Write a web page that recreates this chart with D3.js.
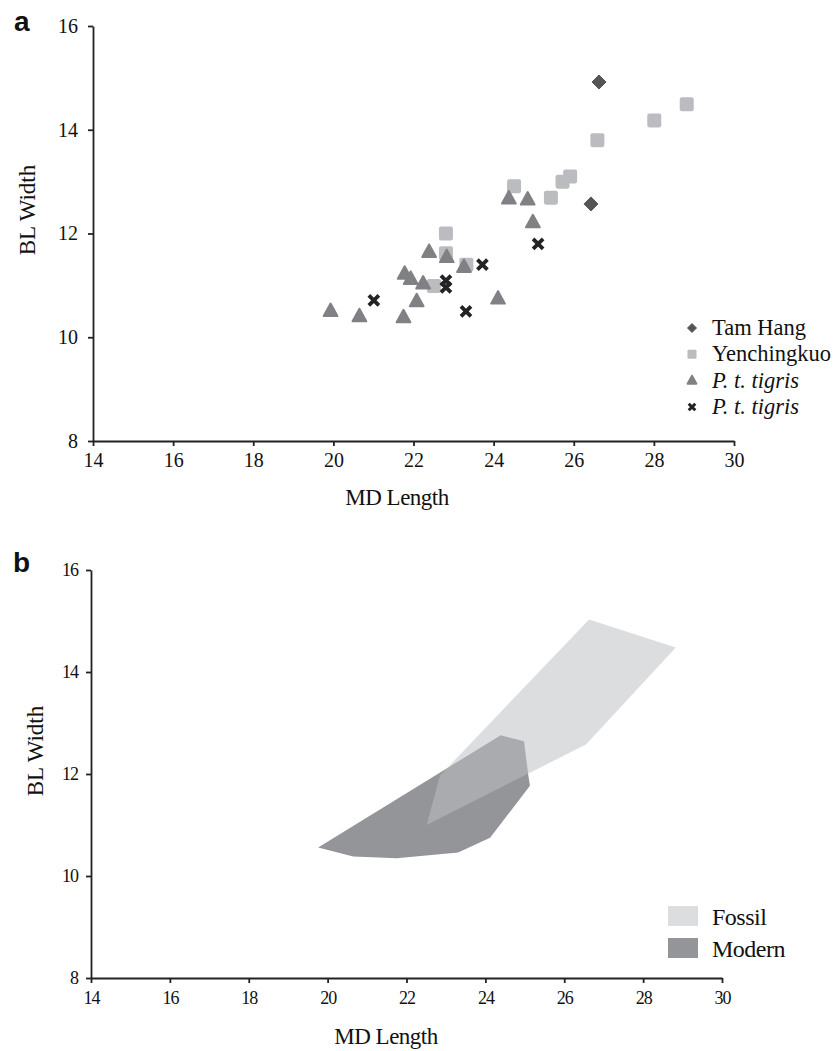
<!DOCTYPE html>
<html>
<head>
<meta charset="utf-8">
<script src="https://cdn.jsdelivr.net/npm/d3@7"></script>
<style>
  body { margin: 0; background: #fff; }
  svg { display: block; }
  text { font-family: "Liberation Serif", "Times New Roman", serif; fill: #111; }
  .panel-letter { font-family: "Liberation Sans", Arial, sans-serif; font-weight: bold; }
</style>
</head>
<body>
<svg id="chart" width="840" height="1051"></svg>
<script>
// panel a: MD length, BL width per group
const tamHang = [[26.63, 14.92], [26.43, 12.57]];
const yenchingkuo = [[28.82, 14.49], [28.01, 14.18], [26.59, 13.80], [25.91, 13.10], [25.72, 13.00],
  [25.43, 12.69], [24.51, 12.91], [22.81, 12.00], [22.81, 11.62], [23.32, 11.40], [22.51, 10.99]];
const tigrisTri = [[19.93, 10.50], [20.65, 10.40], [21.75, 10.38], [21.78, 11.22], [21.93, 11.12],
  [22.08, 10.69], [22.24, 11.03], [22.39, 11.64], [22.83, 11.54], [23.26, 11.35], [24.11, 10.74],
  [24.38, 12.67], [24.85, 12.65], [24.98, 12.21]];
const tigrisX = [[21.01, 10.71], [23.31, 10.50], [23.72, 11.40], [25.11, 11.80], [22.81, 11.09], [22.81, 10.96]];
const legendA = ['Tam Hang', 'Yenchingkuo', 'P. t. tigris', 'P. t. tigris'];

// panel b: outlines of the two groups
const modernHull = [[19.76, 10.56], [20.65, 10.38], [21.75, 10.35], [23.31, 10.46], [24.12, 10.75],
  [25.13, 11.77], [25.09, 11.97], [24.98, 12.64], [24.39, 12.76]];
const fossilHull = [[26.63, 15.03], [28.83, 14.48], [26.55, 12.58], [22.51, 11.00], [22.85, 11.97]];
const legendB = ['Fossil', 'Modern'];

const xTicks = [14, 16, 18, 20, 22, 24, 26, 28, 30];
const yTicks = [8, 10, 12, 14, 16];

const svg = d3.select('#chart');
const axisColor = '#222';

function drawAxes(g, x, y, opt) {
  const xa = g.append('g')
    .attr('transform', `translate(0,${y(8)})`)
    .call(d3.axisBottom(x).tickValues(xTicks).tickSize(5).tickSizeOuter(0).tickPadding(opt.xPad));
  const ya = g.append('g')
    .attr('transform', `translate(${x(14)},0)`)
    .call(d3.axisLeft(y).tickValues(yTicks).tickSize(5).tickSizeOuter(0).tickPadding(opt.yPad));
  [xa, ya].forEach(a => {
    a.select('.domain').attr('stroke', axisColor).attr('stroke-width', 1.8);
    a.selectAll('.tick line').attr('stroke', axisColor).attr('stroke-width', 1.8);
    a.selectAll('.tick text')
      .style('font-family', '"Liberation Serif", "Times New Roman", serif')
      .style('font-size', opt.tickFont + 'px')
      .style('letter-spacing', opt.tickSpacing + 'px')
      .attr('fill', '#111');
  });

  g.append('text')
    .attr('x', opt.xTitle[0]).attr('y', opt.xTitle[1])
    .attr('text-anchor', 'middle')
    .style('font-size', '23px')
    .style('letter-spacing', '-0.5px')
    .text('MD Length');
  g.append('text')
    .attr('transform', `translate(${opt.yTitle[0]},${opt.yTitle[1]}) rotate(-90)`)
    .attr('text-anchor', 'middle')
    .style('font-size', '23px')
    .text('BL Width');
  g.append('text')
    .attr('class', 'panel-letter')
    .attr('x', opt.letter[0]).attr('y', opt.letter[1])
    .style('font-size', '28px')
    .text(opt.letter[2]);
}

// ---------- panel a ----------
const xa = d3.scaleLinear([14, 30], [93, 734]);
const ya = d3.scaleLinear([8, 16], [441, 26]);
const ga = svg.append('g');
drawAxes(ga, xa, ya, { xPad: 7, yPad: 10, tickFont: 20, tickSpacing: 0,
  xTitle: [397, 505], yTitle: [35, 210], letter: [14, 31, 'a'] });

const triPath = s => `M0,${-s * 0.62}L${s * 0.55},${s * 0.38}L${-s * 0.55},${s * 0.38}Z`;
const diaPath = s => `M0,${-s}L${s},0L0,${s}L${-s},0Z`;
const xPath = s => `M${-s},${-s}L${s},${s}M${s},${-s}L${-s},${s}`;

function diamonds(g, data, x, y, s) {
  g.selectAll(null).data(data).join('path')
    .attr('transform', d => `translate(${x(d[0])},${y(d[1])})`)
    .attr('d', diaPath(s))
    .attr('fill', '#555557').attr('stroke', '#555557').attr('stroke-width', 1).attr('stroke-linejoin', 'round');
}
function squares(g, data, x, y, s) {
  g.selectAll(null).data(data).join('rect')
    .attr('x', d => x(d[0]) - s).attr('y', d => y(d[1]) - s)
    .attr('width', 2 * s).attr('height', 2 * s).attr('rx', s * 0.3)
    .attr('fill', '#bbbcbf');
}
function triangles(g, data, x, y, s) {
  g.selectAll(null).data(data).join('path')
    .attr('transform', d => `translate(${x(d[0])},${y(d[1])})`)
    .attr('d', triPath(s))
    .attr('fill', '#808184').attr('stroke', '#808184').attr('stroke-width', 2).attr('stroke-linejoin', 'round');
}
function crosses(g, data, x, y, s, w) {
  g.selectAll(null).data(data).join('path')
    .attr('transform', d => `translate(${x(d[0])},${y(d[1])})`)
    .attr('d', xPath(s))
    .attr('fill', 'none').attr('stroke', '#232323').attr('stroke-width', w).attr('stroke-linecap', 'butt');
}

const marks = ga.append('g');
diamonds(marks, tamHang, xa, ya, 7);
squares(marks, yenchingkuo, xa, ya, 7);
triangles(marks, tigrisTri, xa, ya, 12.5);
crosses(marks, tigrisX, xa, ya, 5, 3.8);

// legend a
const legRowA = d3.scaleLinear([0, 3], [328, 407]);
const lgA = ga.append('g');
const ident = v => v;
legendA.forEach((label, i) => {
  const cy = legRowA(i);
  const cell = lgA.append('g').attr('transform', `translate(692,${cy})`);
  const d0 = [[0, 0]];
  if (i === 0) diamonds(cell, d0, ident, ident, 4.5);
  if (i === 1) squares(cell, d0, ident, ident, 4.5);
  if (i === 2) triangles(cell, d0, ident, ident, 8);
  if (i === 3) crosses(cell, d0, ident, ident, 3.3, 3);
  lgA.append('text')
    .attr('x', 712).attr('y', cy + 7)
    .style('font-size', '22.5px')
    .style('font-style', i >= 2 ? 'italic' : 'normal')
    .text(label);
});

// ---------- panel b ----------
const xb = d3.scaleLinear([14, 30], [91, 722]);
const yb = d3.scaleLinear([8, 16], [978, 570]);
const gb = svg.append('g');
const line = d3.line().x(d => xb(d[0])).y(d => yb(d[1])).curve(d3.curveLinearClosed);
gb.append('path').attr('d', line(modernHull)).attr('fill', '#949599');
gb.append('path').attr('d', line(fossilHull)).attr('fill', 'rgb(189,190,192)').attr('fill-opacity', 0.53);

drawAxes(gb, xb, yb, { xPad: 8, yPad: 8, tickFont: 18, tickSpacing: -1,
  xTitle: [386, 1044], yTitle: [43, 751], letter: [13, 572, 'b'] });

const swatchColors = ['#dcdddf', '#949599'];
const legRowB = d3.scaleLinear([0, 1], [906, 938]);
legendB.forEach((label, i) => {
  gb.append('rect')
    .attr('x', 668).attr('y', legRowB(i))
    .attr('width', 30).attr('height', 20)
    .attr('fill', swatchColors[i]);
  gb.append('text')
    .attr('x', 712).attr('y', legRowB(i) + 19)
    .style('font-size', '24px')
    .style('letter-spacing', '-0.5px')
    .text(label);
});
</script>
</body>
</html>
